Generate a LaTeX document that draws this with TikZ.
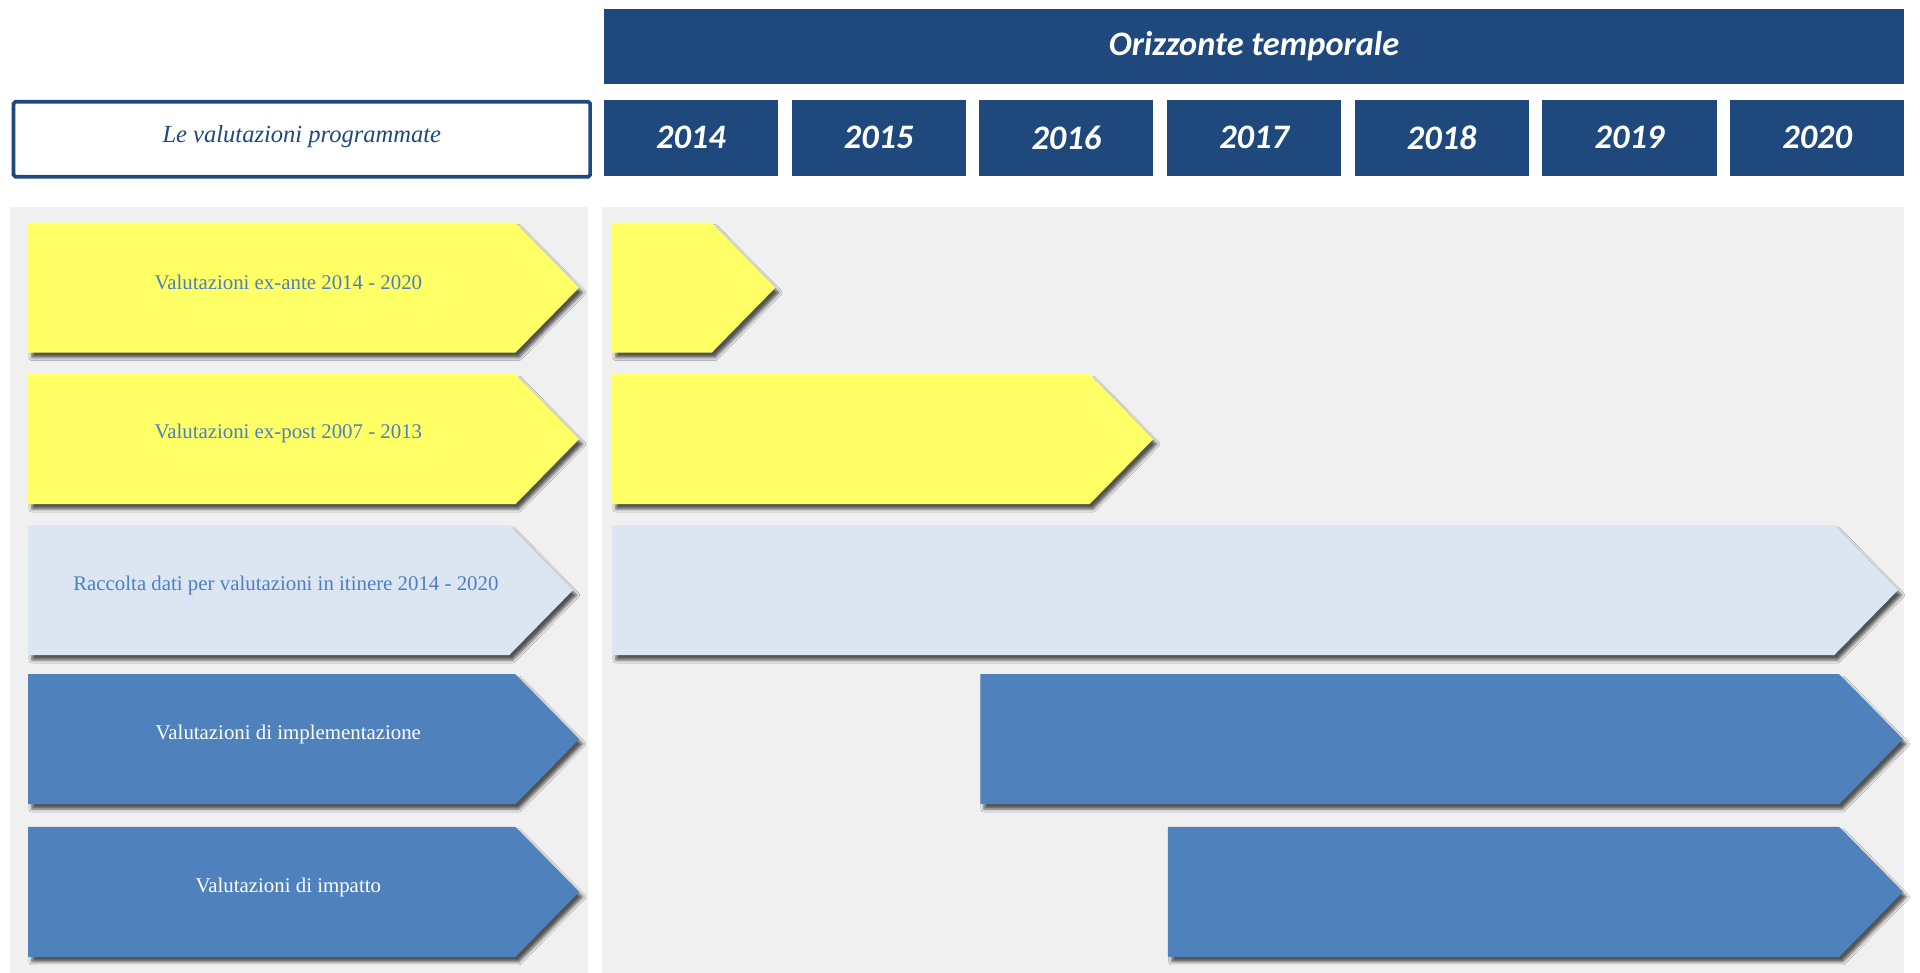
\documentclass[tikz,border=0pt]{standalone}
\usepackage{fontspec}
\setmainfont{Liberation Serif}
\newfontfamily\hdrfont{Carlito}
\usetikzlibrary{shadows.blur}
\definecolor{hdrblue}{HTML}{1F497D}
\definecolor{panelgray}{HTML}{F0F0F0}
\definecolor{yel}{HTML}{FFFF66}
\definecolor{lblue}{HTML}{DCE6F2}
\definecolor{mblue}{HTML}{4F81BD}
\definecolor{txtblue}{HTML}{4F7FBF}
\tikzset{
  hdrbox/.style={fill=hdrblue, text=white, inner sep=0pt, anchor=north west,
    font=\hdrfont\bfseries\itshape\fontsize{28}{32}\selectfont},
  yearbox/.style={hdrbox, minimum width=142pt, minimum height=62pt},
  titlebox/.style={draw=hdrblue, line width=3pt, rounded corners=1.5pt, fill=white, inner sep=0pt, anchor=north west,
    minimum width=470pt, minimum height=61pt, text=hdrblue,
    font=\itshape\fontsize{20}{24}\selectfont},
  panel/.style={fill=panelgray},
  shad/.style={blur shadow={shadow xshift=3pt, shadow yshift=-4pt, shadow blur radius=2.5pt, shadow opacity=65}},
  yelarrow/.style={fill=yel, shad},
  lbluearrow/.style={fill=lblue, shad},
  bluearrow/.style={fill=mblue, shad},
  lbl/.style={inner sep=0pt, font=\fontsize{17}{20}\selectfont},
}
\newcommand{\chevshape}[4]{%
  \path[#4] (#1,#3) -- ({#2-52},#3) -- (#2,{#3+53}) -- ({#2-52},{#3+106}) -- (#1,{#3+106}) -- cycle;}
\begin{document}
\begin{tikzpicture}[x=1pt, y=-1pt]
\useasboundingbox[fill=white] (0,0) rectangle (1565,793);
% header
\node[hdrbox, minimum width=1060pt, minimum height=61pt] (hdr) at (492,7) {\raisebox{-1.5pt}{Orizzonte temporale}};
\foreach \yr [count=\i from 0] in {2014,2015,2016,2017,2018,2019,2020}
  \node[yearbox] (y\yr) at ({492+153*\i},81) {\yr};
\node[titlebox] (title) at (9.5,81.5) {\raisebox{8pt}{Le valutazioni programmate}};
% panels
\path[panel] (8,169) rectangle (479,793);
\path[panel] (491,169) rectangle (1552,793);
% left arrows
\chevshape{23}{472}{181.5}{yelarrow}
\chevshape{23}{472}{305}{yelarrow}
\chevshape{23}{467}{428}{lbluearrow}
\chevshape{23}{472}{549.5}{bluearrow}
\chevshape{23}{472}{674}{bluearrow}
% right arrows
\chevshape{499}{632}{181.5}{yelarrow}
\chevshape{499}{940}{305}{yelarrow}
\chevshape{499}{1547}{428}{lbluearrow}
\chevshape{799}{1551}{549.5}{bluearrow}
\chevshape{952}{1551}{674}{bluearrow}
% labels
\node[lbl, text=txtblue] (l1) at (235,230) {Valutazioni ex-ante 2014 - 2020};
\node[lbl, text=txtblue] (l2) at (235,353.5) {Valutazioni ex-post 2007 - 2013};
\node[lbl, text=txtblue] (l3) at (233,477) {Raccolta dati per valutazioni in itinere 2014 - 2020};
\node[lbl, text=white] (l4) at (235,598.5) {Valutazioni di implementazione};
\node[lbl, text=white] (l5) at (235,723) {Valutazioni di impatto};
\end{tikzpicture}
\end{document}
